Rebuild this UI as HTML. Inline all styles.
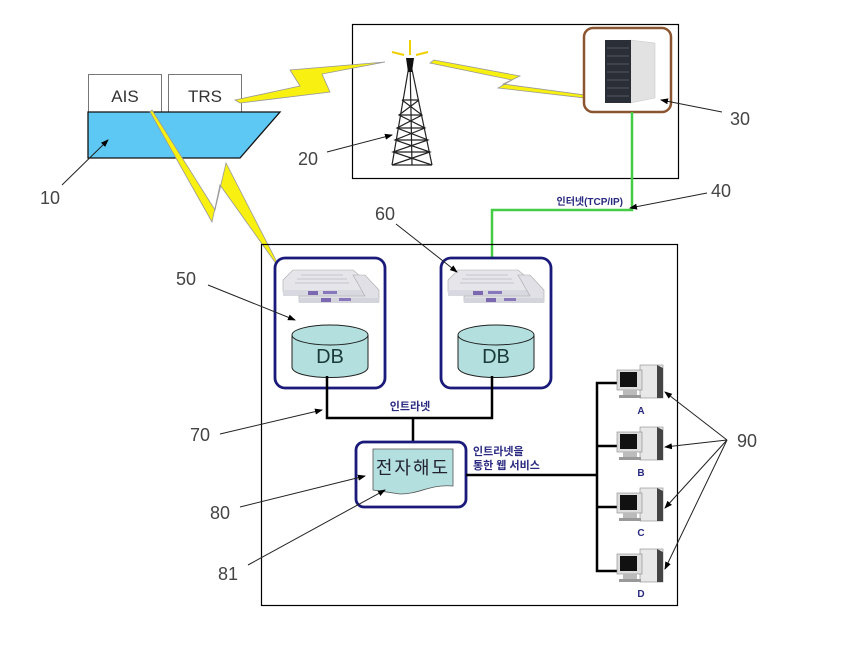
<!DOCTYPE html>
<html><head><meta charset="utf-8"><style>
html,body{margin:0;padding:0;background:#fff;}
svg{display:block;}
text{font-family:"Liberation Sans","Noto Sans CJK KR",sans-serif;}
</style></head><body>
<svg width="845" height="666" viewBox="0 0 845 666" xmlns="http://www.w3.org/2000/svg">
<defs>
<marker id="ah" markerWidth="8" markerHeight="8" refX="7" refY="4" orient="auto" markerUnits="userSpaceOnUse">
<path d="M0,1 L8,4 L0,7 z" fill="#000"/></marker>
<g id="rack">
<polygon points="0,10 10,0 70,0 82,10 82,22 0,22" fill="#e6e6ea" stroke="#aaa" stroke-width="0.6"/>
<rect x="0" y="20" width="82" height="6" fill="#d8d8e0"/>
<rect x="25" y="21" width="10" height="4" fill="#7b68b0"/>
<rect x="40" y="21" width="14" height="3" fill="#8877bb"/>
<g stroke="#c4c4cc" stroke-width="1"><line x1="18" y1="5" x2="60" y2="5"/><line x1="14" y1="9" x2="64" y2="9"/><line x1="12" y1="13" x2="66" y2="13"/></g>
<polygon points="70,5 82,5 96,20 96,32 16,32 16,26 82,26" fill="#e0e0e6" stroke="#aaa" stroke-width="0.6"/>
<rect x="16" y="28" width="80" height="5" fill="#d4d4dc"/>
<rect x="38" y="28" width="10" height="4" fill="#7b68b0"/><rect x="56" y="28" width="12" height="3" fill="#8877bb"/>
</g>
<g id="db">
<path d="M0,10 L0,42 C0,56 76,56 76,42 L76,10" fill="#b3e0df" stroke="#222" stroke-width="1"/>
<ellipse cx="38" cy="10" rx="38" ry="10" fill="#b3e0df" stroke="#222" stroke-width="1"/>
<text x="38" y="38" font-size="20" text-anchor="middle" fill="#1a3a3a">DB</text>
</g>
<g id="pc">
<rect x="23" y="0" width="23" height="33" fill="#e8e8e8" stroke="#888" stroke-width="0.6"/>
<polygon points="40,0 46,3 46,33 40,33" fill="#444"/>
<rect x="0" y="5" width="25" height="20" fill="#ddd" stroke="#888" stroke-width="0.6"/>
<rect x="3" y="7" width="17" height="15" fill="#111"/>
<rect x="6" y="25" width="14" height="5" fill="#bbb"/>
<rect x="2" y="30" width="22" height="3" fill="#999"/>
</g>
</defs>

<rect x="352.5" y="24.5" width="326" height="154" fill="none" stroke="#000" stroke-width="1.2"/>
<rect x="88.5" y="74.5" width="73" height="38" fill="#fff" stroke="#777" stroke-width="1"/>
<rect x="168.5" y="74.5" width="73" height="38" fill="#fff" stroke="#777" stroke-width="1"/>
<text x="125" y="102" font-size="17" text-anchor="middle" fill="#333">AIS</text>
<text x="205" y="102" font-size="17" text-anchor="middle" fill="#333">TRS</text>
<polygon points="88,112 280,112 240,158 88,158" fill="#5ec8f5" stroke="#111" stroke-width="1.3"/>

<polygon points="235,100 300,86 290,70 385,62 322,74 330,92 240,103" fill="#f8f010" stroke="#999" stroke-width="0.8"/>
<polygon points="434,60 520,76 503,84 585,95 585,98 498,88 512,80 430,63" fill="#f8f010" stroke="#999" stroke-width="0.8"/>
<polygon points="152,110 215,210 226,163 280,268 282,272 220,185 212,222 150,112" fill="#f8f010" stroke="#999" stroke-width="0.8"/>

<g stroke="#222" stroke-width="1.2" fill="none">
<line x1="410" y1="60" x2="392" y2="165"/><line x1="410" y1="60" x2="432" y2="165"/>
<line x1="410" y1="60" x2="412" y2="165"/>
<path d="M402,100 L419,100 M399,115 L422,115 M397,128 L425,128 M395,140 L428,140 M393,152 L430,152 M392,165 L432,165"/>
<path d="M402,100 L422,115 L397,128 L428,140 L393,152 L432,165 M419,100 L399,115 L425,128 L395,140 L430,152 L392,165"/>
</g>
<polygon points="406,58 414,58 412,72 408,72" fill="#111"/>
<g stroke="#f0d000" stroke-width="2"><line x1="410" y1="55" x2="410" y2="40"/><line x1="404" y1="55" x2="392" y2="52"/><line x1="416" y1="55" x2="428" y2="52"/></g>

<rect x="584" y="28" width="87" height="84" rx="9" fill="#fff" stroke="#8a5530" stroke-width="2.5"/>
<polygon points="630,40 655,43 655,98 630,103" fill="#e2e2e2" stroke="#c4c4c4" stroke-width="0.5"/>
<rect x="605" y="40" width="26" height="63" fill="#2a2e36"/>
<g stroke="#556" stroke-width="1"><line x1="607" y1="48" x2="629" y2="48"/><line x1="607" y1="56" x2="629" y2="56"/><line x1="607" y1="64" x2="629" y2="64"/><line x1="607" y1="72" x2="629" y2="72"/><line x1="607" y1="80" x2="629" y2="80"/><line x1="607" y1="88" x2="629" y2="88"/><line x1="607" y1="96" x2="629" y2="96"/></g>

<polyline points="632,112 632,210 492,210 492,258" fill="none" stroke="#44cc44" stroke-width="2.5"/>
<text x="623" y="205" font-size="10" text-anchor="end" fill="#2a2a80" font-weight="bold">인터넷(TCP/IP)</text>

<rect x="261.5" y="244.5" width="416" height="361" fill="none" stroke="#000" stroke-width="1.2"/>
<rect x="275" y="258" width="110" height="130" rx="10" fill="#fff" stroke="#1a1a7a" stroke-width="2.8"/>
<rect x="441" y="258" width="110" height="130" rx="10" fill="#fff" stroke="#1a1a7a" stroke-width="2.8"/>
<use href="#rack" x="283" y="270"/>
<use href="#rack" x="448" y="270"/>
<use href="#db" x="292" y="325"/>
<use href="#db" x="458" y="325"/>

<polyline points="327,376 327,418 492,418 492,376" fill="none" stroke="#000" stroke-width="2.5"/>
<line x1="413" y1="418" x2="413" y2="442" stroke="#000" stroke-width="2.5"/>
<text x="410" y="410" font-size="11" text-anchor="middle" fill="#2a2a80" font-weight="bold">인트라넷</text>

<rect x="356" y="442" width="110" height="65" rx="8" fill="#fff" stroke="#1a1a7a" stroke-width="2.8"/>
<path d="M373,449 L453,449 L453,486 C430,484 420,494 400,494 L373,490 Z" fill="#b3e0df" stroke="#555" stroke-width="0.8"/>
<text x="413" y="474" font-size="18" text-anchor="middle" fill="#223" letter-spacing="2">전자해도</text>

<text x="473" y="455" font-size="11" fill="#2a2a80" font-weight="bold">인트라넷을</text>
<text x="473" y="469" font-size="11" fill="#2a2a80" font-weight="bold">통한 웹 서비스</text>
<line x1="466" y1="475" x2="597" y2="475" stroke="#000" stroke-width="2.5"/>
<polyline points="617,383 597,383 597,571 617,571" fill="none" stroke="#000" stroke-width="2.5"/>
<line x1="597" y1="446" x2="617" y2="446" stroke="#000" stroke-width="2.5"/>
<line x1="597" y1="507" x2="617" y2="507" stroke="#000" stroke-width="2.5"/>

<use href="#pc" x="617" y="365"/>
<use href="#pc" x="617" y="427"/>
<use href="#pc" x="617" y="488"/>
<use href="#pc" x="617" y="549"/>
<g font-size="10" font-weight="bold" fill="#2a2a80" text-anchor="middle">
<text x="641" y="414">A</text><text x="641" y="476">B</text><text x="641" y="536">C</text><text x="641" y="597">D</text></g>

<g stroke="#222" stroke-width="1" fill="none" marker-end="url(#ah)">
<line x1="62" y1="185" x2="108" y2="140"/>
<line x1="327" y1="152" x2="392" y2="135"/>
<line x1="722" y1="112" x2="661" y2="100"/>
<line x1="707" y1="193" x2="630" y2="208"/>
<line x1="396" y1="224" x2="457" y2="272"/>
<line x1="208" y1="285" x2="295" y2="320"/>
<line x1="220" y1="434" x2="322" y2="410"/>
<line x1="240" y1="507" x2="365" y2="476"/>
<line x1="248" y1="565" x2="385" y2="490"/>
<line x1="727" y1="440" x2="665" y2="392"/>
<line x1="727" y1="440" x2="665" y2="447"/>
<line x1="727" y1="440" x2="665" y2="508"/>
<line x1="727" y1="440" x2="665" y2="569"/>
</g>
<g font-size="18" fill="#444">
<text x="40" y="204">10</text>
<text x="298" y="165">20</text>
<text x="730" y="125">30</text>
<text x="711" y="197">40</text>
<text x="176" y="285">50</text>
<text x="375" y="220">60</text>
<text x="190" y="441">70</text>
<text x="210" y="519">80</text>
<text x="218" y="580">81</text>
<text x="737" y="447">90</text>
</g>
</svg>
</body></html>
